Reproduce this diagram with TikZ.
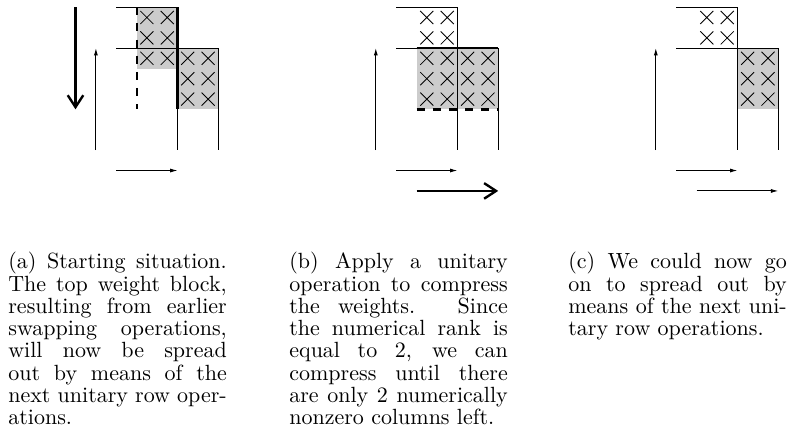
\documentclass[tikz,border=0pt]{standalone}
\usetikzlibrary{arrows.meta}

\tikzset{
  thinline/.style={line width=0.5pt},
  thickline/.style={line width=1.2pt},
  dashline/.style={line width=1.3pt, dash pattern=on 4.4pt off 4.4pt},
  blockfill/.style={fill=black!20},
  smallarrow/.style={line width=0.5pt, -{Latex[length=4pt,width=2.2pt]}},
  bigarrow/.style={line width=1.3pt, -{Straight Barb[length=6.5pt,width=8.5pt]}},
  xcell/.pic={\draw[line width=0.45pt] (0.18,0.18) -- (0.82,0.82) (0.82,0.18) -- (0.18,0.82);},
  caption/.style={anchor=base west, inner sep=0pt}
}
% caption text: 10pt type, enlarged as a whole
\newcommand{\captext}[1]{\scalebox{1.2}{\parbox[t]{99.3pt}{\fontsize{10pt}{10.1pt}\selectfont #1}}}

\begin{document}
\begin{tikzpicture}[x=0.5455pt, y=-0.5455pt]
\path[use as bounding box] (0,0) rectangle (789,446);

% ---- (a) starting situation ----
\begin{scope}[shift={(116.3,7.3)}, x=11.13pt, y=-11.13pt]
  \fill[blockfill] (1,0) rectangle (3,3);
  \fill[blockfill] (3,2) rectangle (5,5);
  \foreach \c in {1,2} \foreach \r in {0,1,2} \pic at (\c,\r) {xcell};
  \foreach \c in {3,4} \foreach \r in {2,3,4} \pic at (\c,\r) {xcell};
  \draw[thinline] (0,0) -- (3,0);
  \draw[thinline] (0,2) -- (5,2);
  \draw[thinline] (3,5) -- (3,7);
  \draw[thinline] (5,2) -- (5,7);
  \draw[thickline] (3,0) -- (3,5);
  \draw[dashline] (1,0) -- (1,5);
  \coordinate (aDownS) at (-2,0);
  \coordinate (aDownE) at (-2,5);
  \coordinate (aUpS) at (-1,7);
  \coordinate (aUpE) at (-1,2);
  \coordinate (aRS) at (0,8);
  \coordinate (aRE) at (3,8);
  \draw[bigarrow] (aDownS) -- (aDownE);
  \draw[smallarrow] (aUpS) -- (aUpE);
  \draw[smallarrow] (aRS) -- (aRE);
\end{scope}

% ---- (b) compressed weights ----
\begin{scope}[shift={(396.2,7.3)}, x=11.13pt, y=-11.13pt]
  \fill[blockfill] (1,2) rectangle (5,5);
  \foreach \c in {1,2} \foreach \r in {0,1} \pic at (\c,\r) {xcell};
  \foreach \c in {1,2,3,4} \foreach \r in {2,3,4} \pic at (\c,\r) {xcell};
  \draw[thinline] (0,0) -- (3,0);
  \draw[thinline] (0,2) -- (1,2);
  \draw[thickline] (1,2) -- (5,2);
  \draw[thinline] (3,0) -- (3,7);
  \draw[thinline] (5,2) -- (5,7);
  \draw[dashline] (1,5) -- (5,5);
  \coordinate (bUpS) at (-1,7);
  \coordinate (bUpE) at (-1,2);
  \coordinate (bRS) at (0,8);
  \coordinate (bRE) at (3,8);
  \coordinate (bBigS) at (1,9);
  \coordinate (bBigE) at (5,9);
  \draw[smallarrow] (bUpS) -- (bUpE);
  \draw[smallarrow] (bRS) -- (bRE);
  \draw[bigarrow] (bBigS) -- (bBigE);
\end{scope}

% ---- (c) next spreading step ----
\begin{scope}[shift={(676.2,7.3)}, x=11.13pt, y=-11.13pt]
  \fill[blockfill] (3,2) rectangle (5,5);
  \foreach \c in {1,2} \foreach \r in {0,1} \pic at (\c,\r) {xcell};
  \foreach \c in {3,4} \foreach \r in {2,3,4} \pic at (\c,\r) {xcell};
  \draw[thinline] (0,0) -- (3,0);
  \draw[thinline] (0,2) -- (5,2);
  \draw[thinline] (3,0) -- (3,7);
  \draw[thinline] (5,2) -- (5,7);
  \coordinate (cUpS) at (-1,7);
  \coordinate (cUpE) at (-1,2);
  \coordinate (cRS) at (0,8);
  \coordinate (cRE) at (3,8);
  \coordinate (cR2S) at (1,9);
  \coordinate (cR2E) at (5,9);
  \draw[smallarrow] (cUpS) -- (cUpE);
  \draw[smallarrow] (cRS) -- (cRE);
  \draw[smallarrow] (cR2S) -- (cR2E);
\end{scope}

% ---- captions ----
\node[caption] (capA) at (8,269) {\captext{(a) Starting situation.\linebreak
The top weight block,\linebreak
resulting from earlier\linebreak
swapping operations,\linebreak
will now be spread\linebreak
out by means of the\linebreak
next unitary row oper-\linebreak
ations.}};

\node[caption] (capB) at (289,269) {\captext{(b) Apply a unitary\linebreak
operation to compress\linebreak
the weights. Since\linebreak
the numerical rank is\linebreak
equal to 2, we can\linebreak
compress until there\linebreak
are only 2 numerically\linebreak
nonzero columns left.}};

\node[caption] (capC) at (568,269) {\captext{(c) We could now go\linebreak
on to spread out by\linebreak
means of the next uni-\linebreak
tary row operations.}};
\end{tikzpicture}
\end{document}
